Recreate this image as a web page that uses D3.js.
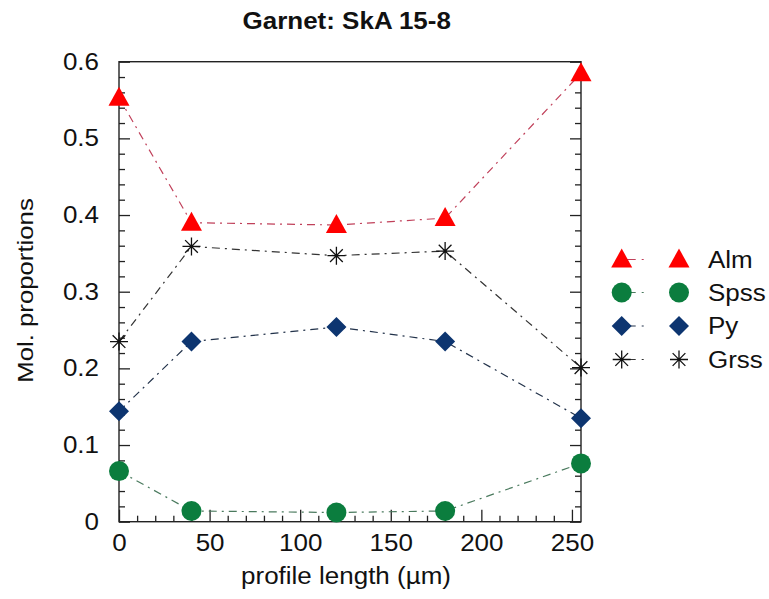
<!DOCTYPE html>
<html>
<head>
<meta charset="utf-8">
<script src="https://cdn.jsdelivr.net/npm/d3@7/dist/d3.min.js"></script>
<style>
  body { margin: 0; background: #fff; }
  svg text { font-family: "Liberation Sans", Arial, sans-serif; fill: #111; }
  .sx { transform-box: fill-box; transform-origin: 50% 50%; transform: scaleX(1.13); }
  .sxr { transform-box: fill-box; transform-origin: 100% 50%; transform: scaleX(1.13); }
  .sxl { transform-box: fill-box; transform-origin: 0% 50%; transform: scaleX(1.13); }
</style>
</head>
<body>
<svg id="chart" width="769" height="599"></svg>
<script>
const title = "Garnet: SkA 15-8";
const xLabel = "profile length (µm)";
const yLabel = "Mol. proportions";
const positions = [0, 40, 120, 180, 255];
const seriesNames = ["Alm", "Spss", "Py", "Grss"];
const almValues  = [0.553, 0.390, 0.387, 0.396, 0.585];
const spssValues = [0.066, 0.014, 0.012, 0.014, 0.076];
const pyValues   = [0.144, 0.235, 0.254, 0.235, 0.135];
const grssValues = [0.235, 0.359, 0.347, 0.353, 0.201];
const xMajorTicks = [0, 50, 100, 150, 200, 250];
const yMajorTicks = [0, 0.1, 0.2, 0.3, 0.4, 0.5, 0.6];

const svg = d3.select("#chart");
const m = {left: 119, top: 61.7, width: 462, height: 460};
const x = d3.scaleLinear().domain([0, 255]).range([m.left, m.left + m.width]);
const y = d3.scaleLinear().domain([0, 0.6]).range([m.top + m.height, m.top]);
const bottom = m.top + m.height, right = m.left + m.width;

const series = [
  {name: seriesNames[0], values: almValues,  marker: "tri",  fill: "#ff0000", line: "#c0405a"},
  {name: seriesNames[1], values: spssValues, marker: "circ", fill: "#0b7d3e", line: "#4a7a5e"},
  {name: seriesNames[2], values: pyValues,   marker: "diam", fill: "#0d3570", line: "#22324a"},
  {name: seriesNames[3], values: grssValues, marker: "star", fill: "none",    line: "#333"}
];

const minorX = d3.range(0, 256, 10).filter(v => v % 50 !== 0);
const minorY = d3.range(0, 61, 2).map(v => v / 100).filter(v => Math.round(v * 100) % 10 !== 0);

// axes with inward ticks
svg.append("g").attr("transform", `translate(0,${bottom})`)
  .call(d3.axisBottom(x).tickValues(minorX).tickSize(-6).tickFormat(""));
const gxM = svg.append("g").attr("transform", `translate(0,${bottom})`);
gxM.call(d3.axisBottom(x).tickValues(xMajorTicks).tickSize(-12).tickPadding(13).tickFormat(d3.format("d")));

svg.append("g").attr("transform", `translate(${m.left},0)`)
  .call(d3.axisLeft(y).tickValues(minorY).tickSize(-6).tickFormat(""));
const gyM = svg.append("g").attr("transform", `translate(${m.left},0)`);
gyM.call(d3.axisLeft(y).tickValues(yMajorTicks).tickSize(-11).tickPadding(20).tickFormat(d => d === 0 ? "0" : d3.format(".1f")(d)));

svg.append("g").attr("transform", `translate(${right},0)`)
  .call(d3.axisRight(y).tickValues(minorY).tickSize(-6).tickFormat(""));
svg.append("g").attr("transform", `translate(${right},0)`)
  .call(d3.axisRight(y).tickValues(yMajorTicks).tickSize(-11).tickFormat(""));

svg.selectAll(".domain").remove();
svg.selectAll(".tick line").attr("stroke", "#222").attr("stroke-width", 1.3);
gxM.selectAll("text").attr("font-size", 23).attr("class", "sx").style("fill", "#111");
gyM.selectAll("text").attr("font-size", 23).attr("class", "sxr").style("fill", "#111");
svg.selectAll(".tick text").attr("font-family", "Liberation Sans, Arial, sans-serif");

// frame
svg.append("rect").attr("x", m.left).attr("y", m.top).attr("width", m.width).attr("height", m.height)
  .attr("fill", "none").attr("stroke", "#222").attr("stroke-width", 1.4);

// lines
const dash = "8,5,2,5";
const lineGen = d3.line().x(d => x(d[0])).y(d => y(d[1]));
series.forEach(s => {
  svg.append("path")
    .datum(positions.map((p, i) => [p, s.values[i]]))
    .attr("d", lineGen)
    .attr("fill", "none").attr("stroke", s.line).attr("stroke-width", 1.2)
    .attr("stroke-dasharray", dash);
});

function drawMarker(g, type, fill, cx, cy) {
  if (type === "tri") {
    g.append("path").attr("d", `M${cx},${cy - 11} L${cx + 10.5},${cy + 8} L${cx - 10.5},${cy + 8} Z`).attr("fill", fill);
  } else if (type === "circ") {
    g.append("circle").attr("cx", cx).attr("cy", cy).attr("r", 10).attr("fill", fill);
  } else if (type === "diam") {
    g.append("path").attr("d", `M${cx},${cy - 10} L${cx + 10},${cy} L${cx},${cy + 10} L${cx - 10},${cy} Z`).attr("fill", fill);
  } else {
    const r = 9, d = r * Math.SQRT1_2;
    g.append("path").attr("d",
      `M${cx - r},${cy} L${cx + r},${cy} M${cx},${cy - r} L${cx},${cy + r} ` +
      `M${cx - d},${cy - d} L${cx + d},${cy + d} M${cx - d},${cy + d} L${cx + d},${cy - d}`)
      .attr("stroke", "#111").attr("stroke-width", 1.3).attr("fill", "none");
  }
}

const mg = svg.append("g");
series.forEach(s => {
  positions.forEach((p, i) => drawMarker(mg, s.marker, s.fill, x(p), y(s.values[i])));
});

// legend
const legY = [259.5, 292.5, 326, 359.5];
const lg = svg.append("g");
series.forEach((s, i) => {
  const ly = legY[i];
  lg.append("line").attr("x1", 621.7).attr("x2", 679).attr("y1", ly).attr("y2", ly)
    .attr("stroke", s.line).attr("stroke-width", 1.2).attr("stroke-dasharray", "14,6,2,60");
  drawMarker(lg, s.marker, s.fill, 621.7, ly);
  drawMarker(lg, s.marker, s.fill, 679, ly);
  lg.append("text").attr("x", 708).attr("y", ly + 8.2).attr("font-size", 23).attr("class", "sxl").text(s.name);
});

// titles
svg.append("text").attr("x", 346.7).attr("y", 28.7).attr("text-anchor", "middle")
  .attr("font-size", 23).attr("font-weight", "bold").attr("class", "sx").text(title);
svg.append("text").attr("x", 346).attr("y", 584.3).attr("text-anchor", "middle")
  .attr("font-size", 23).attr("class", "sx").text(xLabel);
svg.append("text").attr("text-anchor", "middle").attr("font-size", 23)
  .attr("transform", "translate(33,290.5) rotate(-90) scale(1.12,1)").text(yLabel);
</script>
</body>
</html>
